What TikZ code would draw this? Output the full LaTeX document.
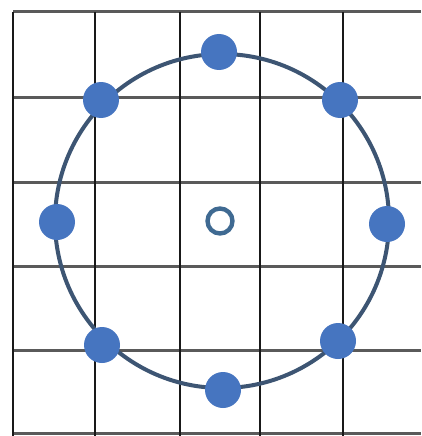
\documentclass[tikz,border=0pt]{standalone}
\definecolor{dotblue}{HTML}{4675C0}
\definecolor{ringcol}{HTML}{3D5573}
\definecolor{holecol}{HTML}{3F6A92}
\definecolor{hgray}{HTML}{5A5A5A}
\begin{document}
\begin{tikzpicture}[x=1pt,y=-1pt,
  hline/.style={draw=hgray,line width=3pt},
  vline/.style={draw=black!90,line width=2.3pt},
  ring/.style={draw=ringcol,line width=4pt},
  bead/.style={circle,fill=dotblue,inner sep=0pt,minimum size=36pt},
  hole/.style={circle,draw=holecol,line width=4.4pt,inner sep=0pt,minimum size=25pt}]
\useasboundingbox (0,0) rectangle (421,436);
\fill[white] (0,0) rectangle (421,436);
\foreach \y in {12,97,182,266,350,433} \draw[hline] (13,\y) -- (421,\y);
\foreach \x in {13,95,180,260,343} \draw[vline] (\x,12) -- (\x,436);
\draw[ring] (222,221) circle (167pt);
\node[bead] (n) at (219,52) {};
\node[bead] (ne) at (340,100) {};
\node[bead] (e) at (387,224) {};
\node[bead] (se) at (338,341) {};
\node[bead] (s) at (223,390) {};
\node[bead] (sw) at (102,345) {};
\node[bead] (w) at (57,222) {};
\node[bead] (nw) at (101,100) {};
\node[hole] (c) at (220,221) {};
\end{tikzpicture}
\end{document}
